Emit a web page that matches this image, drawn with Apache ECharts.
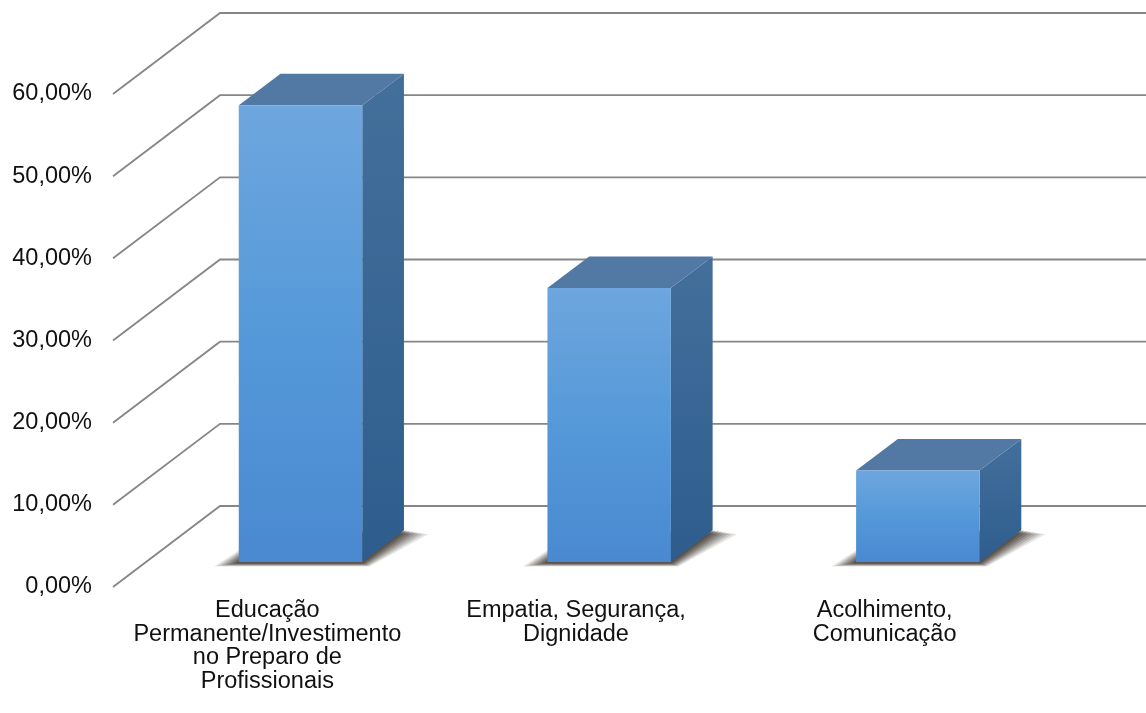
<!DOCTYPE html>
<html>
<head>
<meta charset="utf-8">
<script src="https://cdn.jsdelivr.net/npm/echarts@6/dist/echarts.min.js"></script>
<style>
html,body{margin:0;padding:0;background:#fff;}
#main{width:1146px;height:713px;}
</style>
</head>
<body>
<div id="main"></div>
<script>
const categories = [
  'Educação\nPermanente/Investimento\nno Preparo de\nProfissionais',
  'Empatia, Segurança,\nDignidade',
  'Acolhimento,\nComunicação'
];
const values = [55.56, 33.33, 11.11];
const yTicks = [0, 10, 20, 30, 40, 50, 60];
const yTickLabels = ['0,00%', '10,00%', '20,00%', '30,00%', '40,00%', '50,00%', '60,00%'];

// perspective depth offset of the whole plot box (front plane -> back wall)
const DX = 107, DY = -81;
const F0 = 0.31, F1 = 0.70;

const chart = echarts.init(document.getElementById('main'), null, {renderer: 'canvas'});
const font = '"Liberation Sans", Arial, sans-serif';

const option = {
  backgroundColor: '#ffffff',
  animation: false,
  grid: {left: 113, right: 107, top: 94, bottom: 126, containLabel: false},
  xAxis: {
    type: 'category',
    data: categories,
    boundaryGap: true,
    axisLine: {show: false},
    axisTick: {show: false},
    splitLine: {show: false},
    axisLabel: {
      interval: 0, margin: 12, fontSize: 23.5, lineHeight: 23.5,
      fontFamily: font, color: '#111', align: 'center'
    }
  },
  yAxis: {
    type: 'value',
    min: 0, max: 60, interval: 10,
    axisLine: {show: false},
    axisTick: {show: false},
    splitLine: {show: false},
    axisLabel: {
      margin: 21, fontSize: 23.5, fontFamily: font, color: '#111',
      formatter: function (v) {
        const i = yTicks.indexOf(v);
        return i >= 0 ? yTickLabels[i] : '';
      }
    }
  },
  series: [
    {
      type: 'custom',
      name: 'grid',
      z: 1,
      silent: true,
      clip: false,
      data: yTicks.map(t => [0, t]),
      encode: {x: 0, y: 1},
      renderItem: function (params, api) {
        const cs = params.coordSys;
        const p = api.coord([0, api.value(1)]);
        const y = p[1];
        const x0 = cs.x;
        return {
          type: 'polyline',
          shape: {points: [[x0, y], [x0 + DX, y + DY], [x0 + cs.width + DX, y + DY]]},
          style: {stroke: '#868686', lineWidth: 1.8, fill: null}
        };
      }
    },
    {
      type: 'custom',
      name: 'bars',
      z: 2,
      clip: false,
      data: values.map((v, i) => [i, v]),
      encode: {x: 0, y: 1},
      renderItem: function (params, api) {
        const idx = api.value(0), v = api.value(1);
        const p0 = api.coord([idx, 0]);
        const p1 = api.coord([idx, v]);
        const bw = api.size([1, 0])[0] * 0.4;
        const fx = p0[0] - bw / 2 + F0 * DX;
        const fyB = p0[1] + F0 * DY;
        const fyT = p1[1] + F0 * DY;
        const ddx = (F1 - F0) * DX, ddy = (F1 - F0) * DY;
        const children = [];
        // soft floor shadow: stacked, expanding footprints
        for (let k = 6; k >= 0; k--) {
          const e = 3 + k * 3.6;
          children.push({
            type: 'polygon',
            shape: {points: [
              [fx - e, fyB + 1 + e * 0.15],
              [fx + bw + e * 0.3, fyB + 1 + e * 0.15],
              [fx + bw + ddx + e, fyB + ddy + e * 0.15],
              [fx + ddx - e * 0.6, fyB + ddy + e * 0.1]
            ]},
            style: {fill: 'rgba(45,38,30,' + (0.12 + (6 - k) * 0.025) + ')'}
          });
        }
        children.push(
          {
            type: 'polygon',
            shape: {points: [[fx + bw, fyT], [fx + bw + ddx, fyT + ddy], [fx + bw + ddx, fyB + ddy], [fx + bw, fyB]]},
            style: {
              fill: {type: 'linear', x: 0, y: 0, x2: 0, y2: 1, colorStops: [
                {offset: 0, color: '#436f9b'}, {offset: 1, color: '#2e5d8d'}
              ]}
            }
          },
          {
            type: 'polygon',
            shape: {points: [[fx, fyT], [fx + ddx, fyT + ddy], [fx + bw + ddx, fyT + ddy], [fx + bw, fyT]]},
            style: {fill: '#5278a4'}
          },
          {
            type: 'rect',
            shape: {x: fx, y: fyT, width: bw, height: fyB - fyT},
            style: {
              fill: {type: 'linear', x: 0, y: 0, x2: 0, y2: 1, colorStops: [
                {offset: 0, color: '#6ea6de'}, {offset: 0.5, color: '#5599d9'}, {offset: 1, color: '#4a89d0'}
              ]}
            }
          }
        );
        return {type: 'group', children: children};
      }
    }
  ]
};
chart.setOption(option);
</script>
</body>
</html>
